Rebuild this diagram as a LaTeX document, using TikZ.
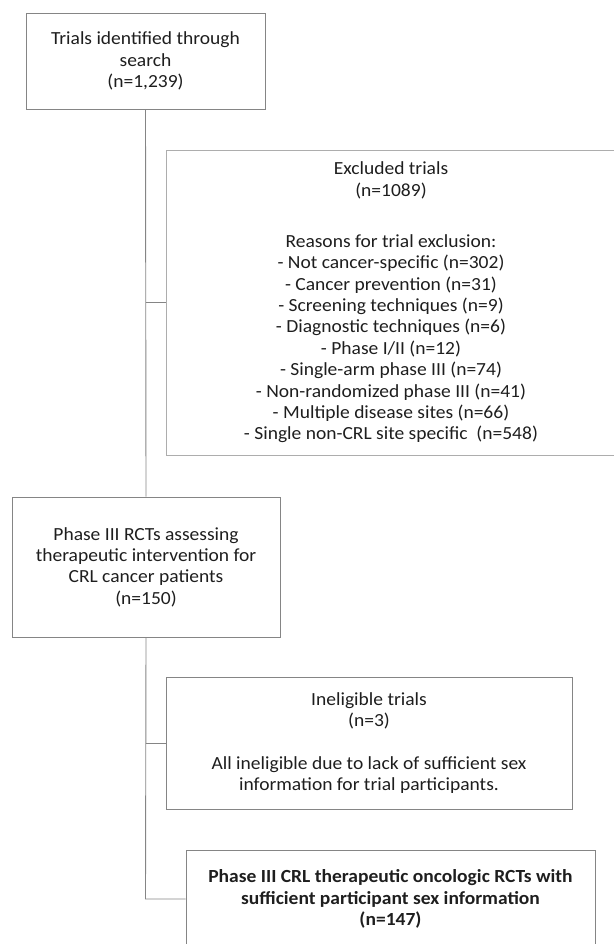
\documentclass[tikz,border=0pt]{standalone}
\usepackage{fontspec}
\setmainfont{Carlito}[FakeStretch=1.055]
\definecolor{edge}{HTML}{858585}
\definecolor{lightedge}{HTML}{ADADAD}
\definecolor{ink}{HTML}{1E1E1E}
\begin{document}
\begin{tikzpicture}[x=1pt,y=-1pt,
  box/.style={draw=edge, line width=0.9pt, align=center, text=ink, inner sep=0pt,
    font=\fontsize{18.5}{21.4}\selectfont},
  conn/.style={draw=edge, line width=0.9pt}]
\useasboundingbox (0,0) rectangle (613,944);
\node[box, minimum width=239pt, minimum height=96pt] (search) at (145.5,61)
  {Trials identified through\\search\\(n=1,239)};
\node[box, draw=lightedge, minimum width=450pt, minimum height=305pt] (excl) at (391,302.5)
  {Excluded trials\\(n=1089)\\[29.6pt]Reasons for trial exclusion:\\- Not cancer-specific (n=302)\\- Cancer prevention (n=31)\\- Screening techniques (n=9)\\- Diagnostic techniques (n=6)\\- Phase I/II (n=12)\\- Single-arm phase III (n=74)\\- Non-randomized phase III (n=41)\\- Multiple disease sites (n=66)\\- Single non-CRL site specific\ \ (n=548)};
\node[box, minimum width=268pt, minimum height=140pt] (rct) at (146,567)
  {Phase III RCTs assessing\\therapeutic intervention for\\CRL cancer patients\\(n=150)};
\node[box, minimum width=406pt, minimum height=132pt] (inel) at (369,743)
  {Ineligible trials\\(n=3)\\[21.4pt]All ineligible due to lack of sufficient sex\\information for trial participants.};
\node[box, minimum width=409pt, minimum height=98pt, font=\fontsize{18.5}{21.4}\selectfont\bfseries] (final) at (390.5,899)
  {Phase III CRL therapeutic oncologic RCTs with\\sufficient participant sex information\\(n=147)};
\coordinate (j1) at (search.south |- excl.west);
\coordinate (j2) at (search.south |- inel.west);
\coordinate (j3) at (search.south |- final.west);
\draw[conn] (search.south) -- (rct.north);
\draw[conn] (j1) -- (excl.west);
\draw[conn] (rct.south) -- (j3) -- (final.west);
\draw[conn] (j2) -- (inel.west);
\end{tikzpicture}
\end{document}
